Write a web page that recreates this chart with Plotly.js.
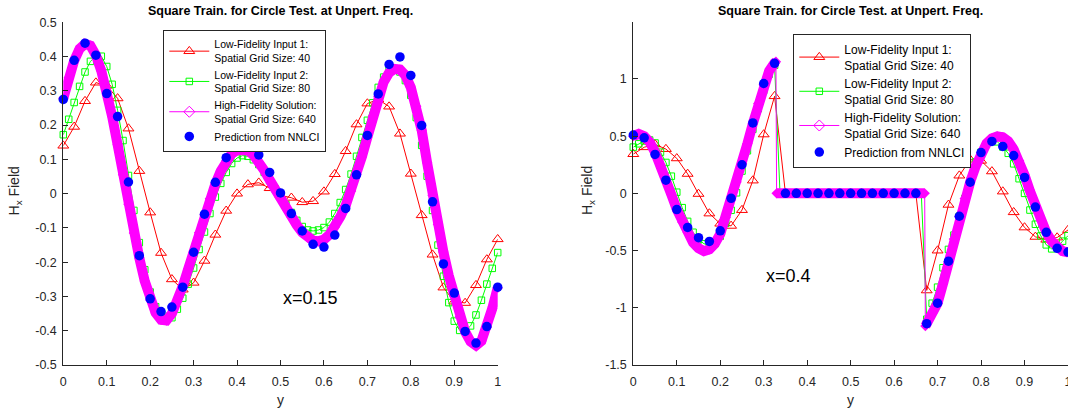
<!DOCTYPE html>
<html><head><meta charset="utf-8">
<script src="https://cdn.plot.ly/plotly-3.0.1.min.js"></script>
<style>html,body{margin:0;padding:0;background:#fff;}#chart{width:1068px;height:412px;}</style>
</head><body><div id="chart"></div>
<script>
// ---------- grids ----------
const grid41 = [0,0.025,0.05,0.075,0.1,0.125,0.15,0.175,0.2,0.225,0.25,0.275,0.3,0.325,0.35,0.375,0.4,0.425,0.45,0.475,0.5,0.525,0.55,0.575,0.6,0.625,0.65,0.675,0.7,0.725,0.75,0.775,0.8,0.825,0.85,0.875,0.9,0.925,0.95,0.975,1];
const grid81 = [0,0.0125,0.025,0.0375,0.05,0.0625,0.075,0.0875,0.1,0.1125,0.125,0.1375,0.15,0.1625,0.175,0.1875,0.2,0.2125,0.225,0.2375,0.25,0.2625,0.275,0.2875,0.3,0.3125,0.325,0.3375,0.35,0.3625,0.375,0.3875,0.4,0.4125,0.425,0.4375,0.45,0.4625,0.475,0.4875,0.5,0.5125,0.525,0.5375,0.55,0.5625,0.575,0.5875,0.6,0.6125,0.625,0.6375,0.65,0.6625,0.675,0.6875,0.7,0.7125,0.725,0.7375,0.75,0.7625,0.775,0.7875,0.8,0.8125,0.825,0.8375,0.85,0.8625,0.875,0.8875,0.9,0.9125,0.925,0.9375,0.95,0.9625,0.975,0.9875,1];

// ---------- left panel (x=0.15) ----------
const lf1Left = [0.14,0.195,0.27,0.324,0.315,0.278,0.19,0.066,-0.055,-0.173,-0.25,-0.28,-0.26,-0.196,-0.12,-0.05,0.0,0.027,0.032,0.016,-0.005,-0.012,-0.025,-0.022,0.006,0.057,0.124,0.202,0.263,0.275,0.254,0.175,0.058,-0.063,-0.178,-0.274,-0.315,-0.319,-0.267,-0.192,-0.133];
const lf2Left = [0.172,0.217,0.266,0.313,0.355,0.386,0.401,0.401,0.371,0.319,
  0.243,0.155,0.053,-0.049,-0.143,-0.222,-0.287,-0.330,-0.349,-0.358,
  -0.362,-0.337,-0.305,-0.264,-0.217,-0.163,-0.112,-0.058,-0.01,0.03,
  0.062,0.088,0.104,0.111,0.109,0.099,0.085,0.062,0.038,0.014,
  -0.008,-0.032,-0.055,-0.078,-0.096,-0.106,-0.109,-0.106,-0.099,-0.083,
  -0.058,-0.026,0.012,0.057,0.109,0.164,0.214,0.265,0.31,0.34,
  0.36,0.365,0.355,0.33,0.287,0.222,0.141,0.051,-0.049,-0.15,
  -0.241,-0.318,-0.372,-0.399,-0.401,-0.386,-0.354,-0.311,-0.264,-0.218,
  -0.172];
const hfLeftX = grid81;
const hfLeftY = [0.278,0.338,0.388,0.423,0.437,0.432,0.404,0.358,0.297,0.225,
  0.143,0.055,-0.031,-0.115,-0.188,-0.255,-0.31,-0.348,-0.368,-0.37,
  -0.35,-0.315,-0.27,-0.22,-0.168,-0.114,-0.062,-0.015,0.028,0.066,
  0.096,0.116,0.127,0.13,0.126,0.113,0.093,0.068,0.04,0.012,
  -0.015,-0.042,-0.068,-0.092,-0.113,-0.128,-0.137,-0.139,-0.134,-0.12,
  -0.097,-0.068,-0.035,0.008,0.055,0.108,0.165,0.226,0.283,0.326,
  0.353,0.364,0.362,0.345,0.31,0.255,0.185,0.09,-0.005,-0.09,
  -0.17,-0.24,-0.3,-0.36,-0.403,-0.432,-0.443,-0.43,-0.39,-0.335,
  -0.275];
const nnLeft = [0.275,0.389,0.439,0.404,0.292,0.225,0.034,-0.181,-0.307,-0.344,-0.331,-0.273,-0.171,-0.06,0.033,0.105,0.144,0.144,0.113,0.062,0.002,-0.058,-0.109,-0.148,-0.156,-0.121,-0.043,0.055,0.17,0.291,0.377,0.399,0.345,0.199,-0.024,-0.205,-0.29,-0.402,-0.436,-0.388,-0.273];

// ---------- right panel (x=0.4) ----------
const lf1Right = [0.343,0.403,0.428,0.387,0.306,0.17,-0.005,-0.176,-0.265,-0.284,-0.146,0.112,0.515,0.849,
  0,0,0,0,0,0,0,0,0,0,0,0,0,
  -0.848,-0.5,-0.1,0.155,0.295,0.285,0.192,0.016,-0.165,-0.298,-0.38,-0.405,-0.386,-0.32];
const lf2Right = [0.404,0.433,0.458,0.466,0.44,0.36,0.27,0.15,0.01,-0.125,
  -0.245,-0.34,-0.405,-0.44,-0.455,-0.44,-0.375,-0.262,-0.148,0.005,
  0.195,0.372,0.56,0.74,0.9,1.04,1.12,0,0,0,
  0,0,0,0,0,0,0,0,0,0,
  0,0,0,0,0,0,0,0,0,0,
  0,0,0,0,-1.10,-0.96,-0.82,-0.65,-0.49,-0.365,
  -0.2,-0.045,0.11,0.275,0.36,0.43,0.462,0.45,0.405,0.35,
  0.258,0.128,0.0,-0.146,-0.27,-0.372,-0.45,-0.485,-0.47,-0.418,
  -0.37];
const hfRightX = [0,0.0125,0.025,0.0375,0.05,0.0625,0.075,0.0875,0.1,0.1125,0.125,0.1375,0.15,0.1625,0.175,0.1875,0.2,0.2125,0.225,0.2375,0.25,0.2625,0.275,0.2875,0.3,0.3125,0.325,0.3281,
  0.3297,0.6703,
  0.6719,0.675,0.6875,0.7,0.7125,0.725,0.7375,0.75,0.7625,0.775,0.7875,0.8,0.8125,0.825,0.8375,0.85,0.8625,0.875,0.8875,0.9,0.9125,0.925,0.9375,0.95,0.9625,0.975,0.9875,1];
const hfRightY = [0.50,0.52,0.50,0.45,0.36,0.25,0.12,-0.01,-0.14,-0.25,-0.34,-0.43,-0.48,-0.505,-0.49,-0.44,-0.355,-0.21,-0.055,0.1,0.26,0.435,0.61,0.785,0.95,1.07,1.14,1.15,
  0,0,
  -1.16,-1.14,-1.05,-0.96,-0.79,-0.6,-0.4,-0.205,-0.045,0.1,0.235,0.355,0.435,0.48,0.497,0.49,0.455,0.385,0.285,0.16,0.02,-0.115,-0.235,-0.34,-0.42,-0.475,-0.505,-0.515];
const nnRight = [0.51,0.485,0.34,0.115,-0.142,-0.298,-0.387,-0.42,-0.327,-0.043,0.25,0.615,0.96,1.136,
  0,0,0,0,0,0,0,0,0,0,0,0,0,
  -1.139,-0.96,-0.593,-0.2,0.097,0.356,0.454,0.41,0.33,0.139,-0.12,-0.341,-0.48,-0.513];

// ---------- labels ----------
const titleText = 'Square Train. for Circle Test. at Unpert. Freq.';
const legendNames = ['Low-Fidelity Input 1:<br>Spatial Grid Size: 40','Low-Fidelity Input 2:<br>Spatial Grid Size: 80','High-Fidelity Solution:<br>Spatial Grid Size: 640','Prediction from NNLCI'];
const xTickVals = [0,0.1,0.2,0.3,0.4,0.5,0.6,0.7,0.8,0.9,1];
const xTickText = ['0','0.1','0.2','0.3','0.4','0.5','0.6','0.7','0.8','0.9','1'];
const yLeftTickVals = [-0.5,-0.4,-0.3,-0.2,-0.1,0,0.1,0.2,0.3,0.4,0.5];
const yLeftTickText = ['-0.5','-0.4','-0.3','-0.2','-0.1','0','0.1','0.2','0.3','0.4','0.5'];
const yRightTickVals = [-1.5,-1,-0.5,0,0.5,1];
const yRightTickText = ['-1.5','-1','-0.5','0','0.5','1'];

const RED='#ff0000', GREEN='#00ff00', MAG='#ff00ff', BLUE='#0000ff';
const FONT='"Liberation Sans", Arial, Helvetica, sans-serif';

function bandSegments(xs, ys, jump){
  const bx=[], by=[];
  for(let i=0;i<xs.length;i++){
    if(i>0 && Math.abs(ys[i]-ys[i-1])>jump){ bx.push(null); by.push(null); }
    bx.push(xs[i]); by.push(ys[i]);
  }
  return {x:bx, y:by};
}

function panel(xa, ya, leg, lf1, lf2, hfx, hfy, nn){
  const band = bandSegments(hfx, hfy, 0.6);
  return [
    {x:grid41, y:lf1, xaxis:xa, yaxis:ya, legend:leg, name:legendNames[0], mode:'lines+markers', cliponaxis:false,
     line:{color:RED,width:1}, marker:{symbol:'triangle-up-open',size:9.5,color:RED,line:{width:1,color:RED}}},
    {x:grid81, y:lf2, xaxis:xa, yaxis:ya, legend:leg, name:legendNames[1], mode:'lines+markers', cliponaxis:false,
     line:{color:GREEN,width:1}, marker:{symbol:'square-open',size:6.5,color:GREEN,line:{width:1,color:GREEN}}},
    {x:hfx, y:hfy, xaxis:xa, yaxis:ya, legend:leg, showlegend:false, mode:'lines', line:{color:MAG,width:1}, hoverinfo:'skip'},
    {x:band.x, y:band.y, xaxis:xa, yaxis:ya, legend:leg, showlegend:false, mode:'lines+markers', cliponaxis:false, connectgaps:false,
     line:{color:MAG,width:10}, marker:{symbol:'diamond',size:8,color:MAG}, hoverinfo:'skip'},
    {x:[null], y:[null], xaxis:xa, yaxis:ya, legend:leg, name:legendNames[2], mode:'lines+markers',
     line:{color:MAG,width:1}, marker:{symbol:'diamond-open',size:8.5,color:MAG,line:{width:1,color:MAG}}},
    {x:grid41, y:nn, xaxis:xa, yaxis:ya, legend:leg, name:legendNames[3], mode:'markers', cliponaxis:false,
     marker:{symbol:'circle',size:9.5,color:BLUE}}
  ];
}

const data = [].concat(
  panel('x','y','legend', lf1Left, lf2Left, hfLeftX, hfLeftY, nnLeft),
  panel('x2','y2','legend2', lf1Right, lf2Right, hfRightX, hfRightY, nnRight)
);

const axisStyle = {showline:true, linecolor:'#262626', linewidth:1, ticks:'inside', ticklen:5, tickwidth:1,
  tickcolor:'#262626', showgrid:false, zeroline:false, fixedrange:true, tickfont:{family:FONT,size:12.5,color:'#262626'}};
const yDom = [0.1141, 0.9459];

const layout = {
  width:1068, height:412, margin:{l:0,r:0,t:0,b:0},
  paper_bgcolor:'#ffffff', plot_bgcolor:'#ffffff', showlegend:true,
  font:{family:FONT, size:12, color:'#262626'},
  xaxis:Object.assign({}, axisStyle, {domain:[0.05927,0.46601], range:[0,1], anchor:'y', tickvals:xTickVals, ticktext:xTickText, ticklabelstandoff:5}),
  yaxis:Object.assign({}, axisStyle, {domain:yDom, range:[-0.5,0.5], anchor:'x', tickvals:yLeftTickVals, ticktext:yLeftTickText, ticklabelstandoff:3}),
  xaxis2:Object.assign({}, axisStyle, {domain:[0.59298,1], range:[0,1], anchor:'y2', tickvals:xTickVals, ticktext:xTickText, ticklabelstandoff:5, ticklabeloverflow:'allow'}),
  yaxis2:Object.assign({}, axisStyle, {domain:yDom, range:[-1.5,1.495], anchor:'x2', tickvals:yRightTickVals, ticktext:yRightTickText, ticklabelstandoff:3}),
  legend:{x:0.1529, y:0.9272, xanchor:'left', yanchor:'top', bordercolor:'#262626', borderwidth:1, bgcolor:'#ffffff',
    font:{family:FONT,size:10.5,color:'#000'}, itemwidth:40, tracegroupgap:0, valign:'middle'},
  legend2:{x:0.7428, y:0.9175, xanchor:'left', yanchor:'top', bordercolor:'#262626', borderwidth:1, bgcolor:'#ffffff',
    font:{family:FONT,size:12,color:'#000'}, itemwidth:40, tracegroupgap:0, valign:'middle'},
  annotations:[
    {text:'<b>'+titleText+'</b>', xref:'paper', yref:'paper', x:0.2626, y:0.9733, xanchor:'center', yanchor:'middle', showarrow:false, font:{family:FONT,size:12.5,color:'#000'}},
    {text:'<b>'+titleText+'</b>', xref:'paper', yref:'paper', x:0.7965, y:0.9733, xanchor:'center', yanchor:'middle', showarrow:false, font:{family:FONT,size:12.5,color:'#000'}},
    {text:'y', xref:'paper', yref:'paper', x:0.2626, y:0.0291, xanchor:'center', yanchor:'middle', showarrow:false, font:{family:FONT,size:14,color:'#262626'}},
    {text:'y', xref:'paper', yref:'paper', x:0.7965, y:0.0291, xanchor:'center', yanchor:'middle', showarrow:false, font:{family:FONT,size:14,color:'#262626'}},
    {text:'H<sub>x</sub> Field', xref:'paper', yref:'paper', x:0.0145, y:0.5364, xanchor:'center', yanchor:'middle', textangle:-90, showarrow:false, font:{family:FONT,size:14,color:'#262626'}},
    {text:'H<sub>x</sub> Field', xref:'paper', yref:'paper', x:0.5506, y:0.5364, xanchor:'center', yanchor:'middle', textangle:-90, showarrow:false, font:{family:FONT,size:14,color:'#262626'}},
    {text:'x=0.15', xref:'x', yref:'y', x:0.5, y:-0.304, xanchor:'left', yanchor:'middle', showarrow:false, font:{family:FONT,size:18,color:'#000'}},
    {text:'x=0.4', xref:'x2', yref:'y2', x:0.3, y:-0.72, xanchor:'left', yanchor:'middle', showarrow:false, font:{family:FONT,size:18,color:'#000'}}
  ]
};

Plotly.newPlot('chart', data, layout, {displayModeBar:false, staticPlot:true});
</script>
</body></html>
